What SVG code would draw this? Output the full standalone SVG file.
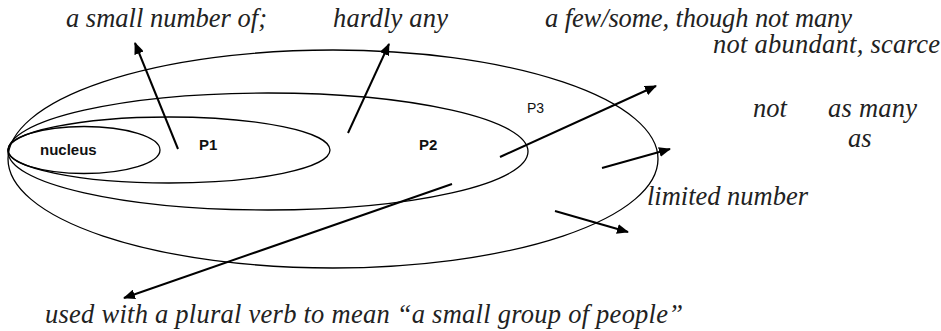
<svg xmlns="http://www.w3.org/2000/svg" width="941" height="331" viewBox="0 0 941 331">
<defs>
<marker id="ah" markerWidth="12" markerHeight="10" refX="11" refY="5" orient="auto" markerUnits="userSpaceOnUse">
<path d="M0,0 L12,5 L0,10 Z" fill="#000"/>
</marker>
</defs>
<rect width="941" height="331" fill="#fff"/>
<g id="p3"><ellipse cx="333" cy="159" rx="325" ry="109" fill="none" stroke="#000" stroke-width="1.3"/><text x="527" y="113" style="font-family:'Liberation Sans',sans-serif;font-size:14px" fill="#111">P3</text></g>
<g id="p2"><ellipse cx="268" cy="151.5" rx="260" ry="58.5" fill="none" stroke="#000" stroke-width="1.3"/><text x="419" y="150" style="font-family:'Liberation Sans',sans-serif;font-size:15px;font-weight:bold" fill="#111">P2</text></g>
<g id="p1"><ellipse cx="169" cy="150" rx="161" ry="33" fill="none" stroke="#000" stroke-width="1.3"/><text x="199" y="150" style="font-family:'Liberation Sans',sans-serif;font-size:15px;font-weight:bold" fill="#111">P1</text></g>
<g id="nucleus"><ellipse cx="84" cy="150" rx="76" ry="23.5" fill="none" stroke="#000" stroke-width="1.3"/><text x="40" y="155" style="font-family:'Liberation Sans',sans-serif;font-size:15px;font-weight:bold" fill="#111">nucleus</text></g>
<g id="connectors" fill="none" stroke="#000" stroke-width="2">
<line x1="178" y1="149" x2="135" y2="43" marker-end="url(#ah)"/>
<line x1="348" y1="133" x2="389" y2="44" marker-end="url(#ah)"/>
<line x1="500" y1="157" x2="656" y2="86" marker-end="url(#ah)"/>
<line x1="602" y1="168" x2="670" y2="149" marker-end="url(#ah)"/>
<line x1="555" y1="211" x2="628" y2="232" marker-end="url(#ah)"/>
<line x1="452" y1="184" x2="124" y2="298" marker-end="url(#ah)"/>
</g>
<g id="labels" fill="#222">
<text x="66" y="27" textLength="201" style="font-family:'Liberation Serif',serif;font-style:italic;font-size:26.5px">a small number of;</text>
<text x="333" y="27" textLength="115" style="font-family:'Liberation Serif',serif;font-style:italic;font-size:26.5px">hardly any</text>
<text x="545" y="27" textLength="307" style="font-family:'Liberation Serif',serif;font-style:italic;font-size:26.5px">a few/some, though not many</text>
<text x="713" y="53" textLength="227" style="font-family:'Liberation Serif',serif;font-style:italic;font-size:26.5px">not abundant, scarce</text>
<text x="753" y="117" style="font-family:'Liberation Serif',serif;font-style:italic;font-size:26.5px">not</text>
<text x="828" y="117" textLength="89" style="font-family:'Liberation Serif',serif;font-style:italic;font-size:26.5px">as many</text>
<text x="848" y="147" style="font-family:'Liberation Serif',serif;font-style:italic;font-size:26.5px">as</text>
<text x="647" y="205" textLength="161" style="font-family:'Liberation Serif',serif;font-style:italic;font-size:26.5px">limited number</text>
<text x="45" y="323" textLength="638" style="font-family:'Liberation Serif',serif;font-style:italic;font-size:26.5px">used with a plural verb to mean “a small group of people”</text>
</g>
</svg>
